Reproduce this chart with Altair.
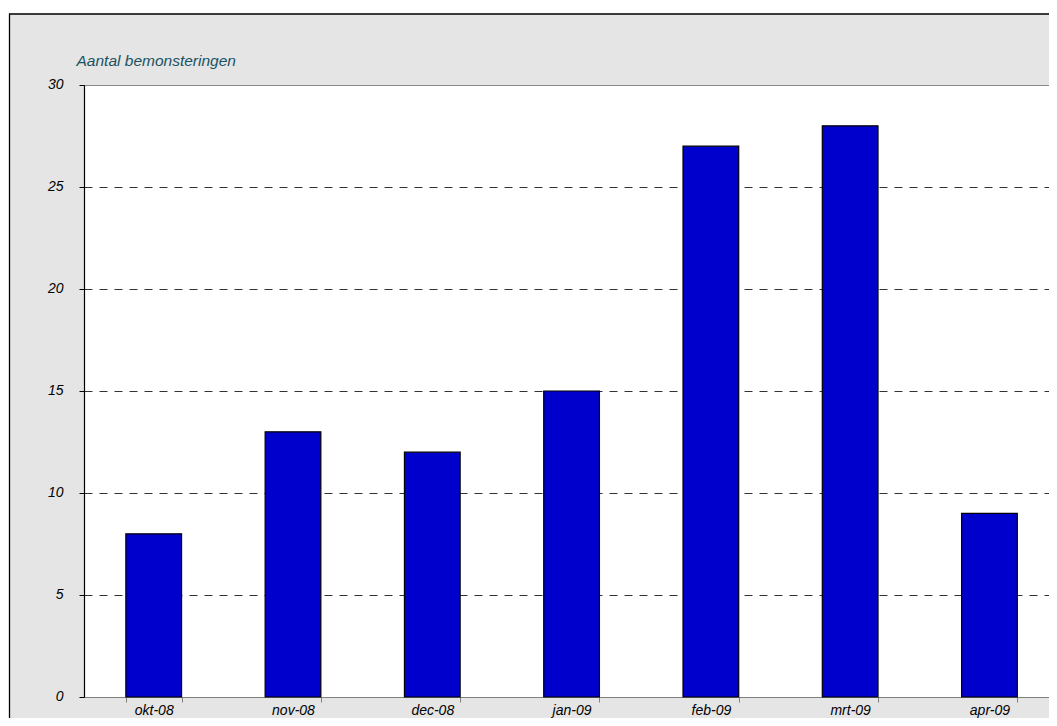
import altair as alt
import pandas as pd

months = ["okt-08", "nov-08", "dec-08", "jan-09", "feb-09", "mrt-09", "apr-09"]
counts = [8, 13, 12, 15, 27, 28, 9]
y_ticks = [0, 5, 10, 15, 20, 25, 30]
title_text = "Aantal bemonsteringen"

df = pd.DataFrame({"maand": months, "aantal": counts})

W = 965
H = 612
FONT = "Liberation Sans"

bars = alt.Chart(df).mark_bar(color="#0000CC", stroke="black", strokeWidth=1.2).encode(
    x=alt.X(
        "maand:N",
        sort=months,
        scale=alt.Scale(paddingInner=0.6, paddingOuter=0.264, align=0.569),
        axis=alt.Axis(
            title=None,
            labelAngle=0,
            labelFont=FONT,
            labelFontStyle="italic",
            labelFontSize=14,
            labelColor="black",
            labelBaseline="alphabetic",
            labelPadding=12,
            tickBand="extent",
            tickSize=5,
            tickColor="#808080",
            domainColor="#808080",
            grid=False,
        ),
    ),
    y=alt.Y(
        "aantal:Q",
        scale=alt.Scale(domain=[0, 30], nice=False),
        axis=alt.Axis(
            values=y_ticks,
            title=title_text,
            titleAngle=0,
            titleAlign="left",
            titleBaseline="alphabetic",
            titleX=-8,
            titleY=-19.5,
            titleFont=FONT,
            titleFontStyle="italic",
            titleFontWeight="normal",
            titleFontSize=15.5,
            titleColor="#1A5262",
            labelFont=FONT,
            labelFontStyle="italic",
            labelFontSize=14,
            labelColor="black",
            labelPadding=16,
            labelOffset=-1,
            tickSize=5,
            tickColor="black",
            domainColor="black",
            domainWidth=1.2,
            grid=True,
            gridDash=[8, 7],
            gridColor="#333333",
            gridWidth=1,
            gridOpacity={"condition": {"test": "datum.value <= 0 || datum.value >= 30", "value": 0}, "value": 1},
        ),
    ),
)

one = alt.Data(values=[{"k": 1}])
top_strip = alt.Chart(one).mark_rect(color="white").encode(
    x=alt.value(-80), x2=alt.value(W + 10), y=alt.value(-80), y2=alt.value(-71.5)
)
left_strip = alt.Chart(one).mark_rect(color="white").encode(
    x=alt.value(-80), x2=alt.value(-75), y=alt.value(-80), y2=alt.value(H + 40)
)
frame = alt.Chart(one).mark_rect(fill=None, stroke="black", strokeWidth=1.3).encode(
    x=alt.value(-74.5), x2=alt.value(W + 20), y=alt.value(-71), y2=alt.value(H + 60)
)

chart = alt.layer(bars, top_strip, left_strip, frame).properties(
    width=W,
    height=H,
    autosize=alt.AutoSizeParams(type="none"),
    padding={"left": 76, "top": 77, "right": 0, "bottom": 21},
    background="#E5E5E5",
).configure_view(fill="white", stroke="#888888", strokeWidth=1)

chart.save("out.html", embed_options={"renderer": "svg", "actions": False})
